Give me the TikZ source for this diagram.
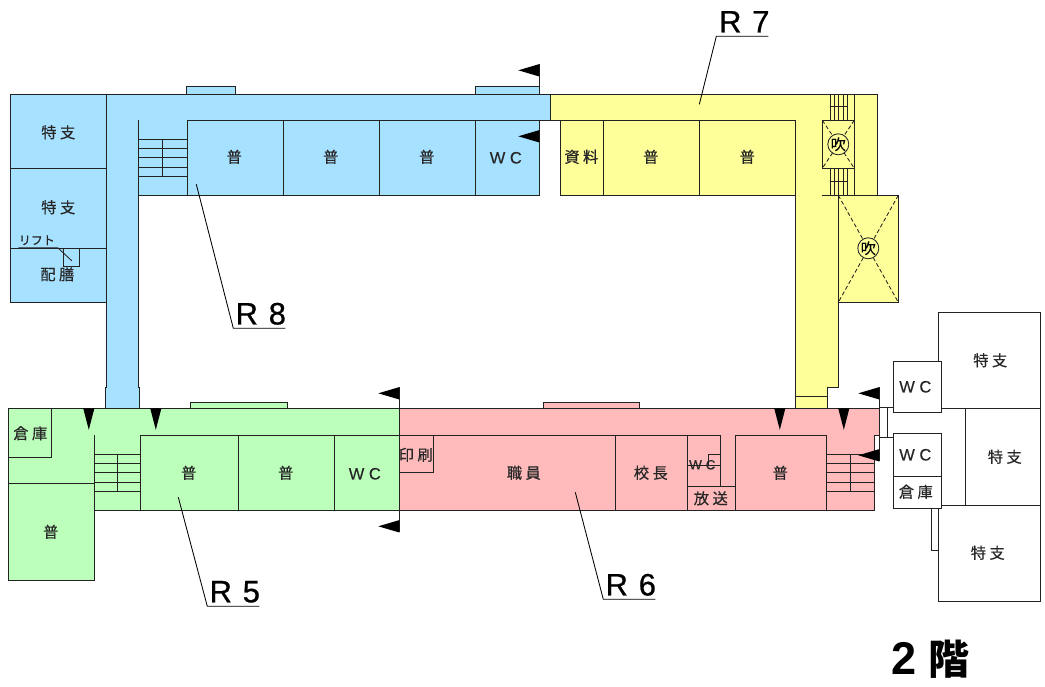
\documentclass[tikz,border=0pt]{standalone}
\usepackage{fontspec}
\usepackage{graphicx}
\setmainfont{Noto Sans CJK JP}[RawFeature={embolden=0.35}]
\newfontfamily\latinf{Liberation Sans}[RawFeature={embolden=0.25}]
\newfontfamily\latinr{Liberation Sans}[RawFeature={embolden=0.7}]
\newfontfamily\latinb{Liberation Sans}
\newfontfamily\jpbold{Noto Sans CJK JP}
\definecolor{cblue}{HTML}{A6E1FF}
\definecolor{cyellow}{HTML}{FFFF99}
\definecolor{cgreen}{HTML}{BBFFBB}
\definecolor{cpink}{HTML}{FFBBBB}
\definecolor{lin}{HTML}{222222}
\tikzset{
 wall/.style={draw=lin,line width=0.95pt,line join=miter},
 thin wall/.style={draw=lin,line width=0.85pt},
 room/.style={inner sep=0pt,font=\fontsize{15.3}{15}\selectfont,text=black!85},
 wc/.style={inner sep=0pt,font=\latinf\fontsize{16.5}{15}\selectfont,text=black!85},
 rlabel/.style={inner sep=0pt,font=\latinr\fontsize{31}{31}\selectfont,text=black},
 flagtip/.style={fill=black,draw=none},
 leader/.style={draw=black,line width=0.85pt},
}
\begin{document}
\begin{tikzpicture}[x=1pt,y=-1pt]
\useasboundingbox (-0.3,-0.3) rectangle (1044.7,686.7);
% --- R8 blue
\path[wall,fill=cblue] (186,94)--(186,86)--(235,86)--(235,94)--cycle;
\path[wall,fill=cblue] (475,94)--(475,86)--(539,86)--(539,94)--cycle;
\path[wall,fill=cblue] (10,94)--(550,94)--(550,120)--(539,120)--(539,195)--(138,195)--(138,387)--(139.5,387)--(139.5,408)--(105,408)--(105,387)--(106,387)--(106,302)--(10,302)--cycle;
\draw[wall] (106,94)--(106,302) (10,168)--(106,168) (10,248)--(106,248);
\draw[wall] (138,120)--(138,195) (187,120)--(539,120) (187,120)--(187,195) (283,120)--(283,195) (379,120)--(379,195) (475,120)--(475,195);
\foreach \yy in {139,148,157,167,176} \draw[thin wall] (138,\yy)--(187,\yy);
\draw[thin wall] (162.5,139)--(162.5,176);
\draw[thin wall] (63.5,248)--(63.5,266)--(79.5,266)--(79.5,248);
\draw[thin wall] (18,247.5)--(57.5,247.5)--(71.5,260.5);
% --- R7 yellow
\path[wall,fill=cyellow] (550,94)--(877,94)--(877,195)--(898,195)--(898,302)--(838,302)--(838,387)--(827,387)--(827,408)--(795,408)--(795,195)--(560,195)--(560,120)--(550,120)--cycle;
\draw[wall] (560,120)--(795,120)--(795,195) (603,120)--(603,195) (699,120)--(699,195) (795,396)--(827,396);
\draw[wall] (822,195)--(898,195) (838,195)--(838,302);
\draw[wall] (854,94)--(854,195);
\foreach \xx in {830,834.3,838.3,842.7,846.7} {\draw[thin wall] (\xx,94)--(\xx,120); \draw[thin wall] (\xx,168)--(\xx,195);}
\draw[thin wall] (830,106)--(846.7,106) (830,181)--(846.7,181);
\draw[wall,fill=cyellow] (822,120) rectangle (854,168);
\draw[thin wall,dash pattern=on 4pt off 2.5pt] (822,120)--(854,168) (854,120)--(822,168);
\draw[thin wall,dash pattern=on 4pt off 2.5pt] (838,195)--(898,302) (898,195)--(838,302);
\node[circle,draw=lin,line width=0.85pt,fill=cyellow,minimum size=21pt,inner sep=0pt,font=\fontsize{15}{15}\selectfont] (f1) at (838,144) {吹};
\node[circle,draw=lin,line width=0.85pt,fill=cyellow,minimum size=21pt,inner sep=0pt,font=\fontsize{15}{15}\selectfont] (f2) at (868,248) {吹};
% --- R5 green
\path[wall,fill=cgreen] (190,408)--(190,402)--(287,402)--(287,408)--cycle;
\path[wall,fill=cgreen] (8,408)--(399,408)--(399,510)--(94,510)--(94,580)--(8,580)--cycle;
\draw[wall] (8,457)--(51,457)--(51,408) (8,483)--(94,483) (94,435)--(94,510);
\draw[wall] (140,435)--(399,435) (140,435)--(140,510) (238,435)--(238,510) (334,435)--(334,510);
\foreach \yy in {454,463,472.6,482,491} \draw[thin wall] (94,\yy)--(140,\yy);
\draw[thin wall] (117,454)--(117,491);
% --- R6 pink
\path[wall,fill=cpink] (543,408)--(543,402)--(639,402)--(639,408)--cycle;
\path[wall,fill=cpink] (399,408)--(879,408)--(879,435)--(874,435)--(874,510)--(399,510)--cycle;
\draw[wall] (399,435)--(720,435)--(720,486) (399,472)--(433,472)--(433,435) (615,435)--(615,510) (687,435)--(687,510) (687,486)--(735,486);
\draw[wall] (735,510)--(735,435)--(826,435)--(826,510);
\draw[thin wall] (687,465)--(720,465) (708,465)--(708,454)--(720,454);
\foreach \yy in {454,463,472.6,482,491} \draw[thin wall] (826,\yy)--(874,\yy);
\draw[thin wall] (850,454)--(850,491);
% --- right block
\draw[wall] (938,361)--(938,312)--(1040,312)--(1040,601)--(938,601)--(938,508);
\draw[wall] (941,408)--(1040,408) (941,505)--(1040,505) (965,408)--(965,505);
\draw[wall] (931,508)--(931,550)--(938,550);
\draw[wall] (879,407)--(893,407) (879,437)--(893,437) (887,407)--(887,437);
\draw[wall] (879,435)--(879,461);
\draw[wall,fill=white] (893,361) rectangle (941,412);
\draw[wall,fill=white] (893,433) rectangle (941,508);
\draw[wall] (893,476)--(941,476);
% --- section flags
\draw[thin wall] (539,64)--(539,94) (539,120)--(539,142);
\draw[thin wall] (399,387)--(399,532);
\draw[thin wall] (879,387)--(879,408);
\foreach \xx/\yy in {539/70,539/136,399/393,399/526,879/393,879/455}
 \fill[flagtip] (\xx,\yy-6.2)--(\xx,\yy+6.2)--(\xx-21,\yy)--cycle;
\foreach \xx in {88.5,155.5,779.5,843.5}
 \fill[flagtip] (\xx-5.6,408)--(\xx+5.6,408)--(\xx,429.5)--cycle;
% --- room labels
\node[room] (a1) at (58,132) {特 支};
\node[room] (a2) at (58,207) {特 支};
\node[room,font=\fontsize{12}{12}\selectfont] (a3) at (36.5,240) {リフト};
\node[room] (a4) at (57,274) {配 膳};
\node[room] (a5) at (234,156.5) {普};
\node[room] (a6) at (330.5,156.5) {普};
\node[room] (a7) at (426.5,156.5) {普};
\node[wc] (a8) at (505.5,157.5) {W C};
\node[room] (b1) at (581,156.5) {資 料};
\node[room] (b2) at (650.5,156.5) {普};
\node[room] (b3) at (747,156.5) {普};
\node[room] (c1) at (30,433) {倉 庫};
\node[room] (c2) at (50.5,531.5) {普};
\node[room] (c3) at (188.5,472.5) {普};
\node[room] (c4) at (285.5,472.5) {普};
\node[wc] (c5) at (364.5,473.5) {W C};
\node[room] (d1) at (415.5,454.5) {印 刷};
\node[room] (d2) at (523.5,472.5) {職 員};
\node[room] (d3) at (650.5,472.5) {校 長};
\node[wc,font=\latinf\fontsize{13.5}{12}\selectfont] (d4) at (702,464.5) {W C};
\node[room] (d5) at (710.5,498) {放 送};
\node[room] (d6) at (780,472.5) {普};
\node[room] (e1) at (990,360) {特 支};
\node[wc] (e2) at (915,386.5) {W C};
\node[room] (e3) at (1004.5,456.5) {特 支};
\node[wc] (e4) at (915,454.5) {W C};
\node[room] (e5) at (915.5,491.5) {倉 庫};
\node[room] (e6) at (987.5,552.5) {特 支};
% --- block labels with leaders
\node[rlabel] (r7) at (744,21.5) {R\hspace{0.07em} 7};
\node[rlabel] (r8) at (260.5,313.5) {R\hspace{0.07em} 8};
\node[rlabel] (r5) at (234.5,591.5) {R\hspace{0.07em} 5};
\node[rlabel] (r6) at (630.5,584.5) {R\hspace{0.07em} 6};
\coordinate (p7) at (699,104); \coordinate (k7) at (716,36); \coordinate (e7) at (768,36);
\coordinate (p8) at (196,184); \coordinate (k8) at (233,328); \coordinate (e8) at (285,328);
\coordinate (p5) at (178,497); \coordinate (k5) at (207,606); \coordinate (e5x) at (259,606);
\coordinate (p6) at (575,492); \coordinate (k6) at (603,599); \coordinate (e6x) at (655,599);
\draw[leader] (p7)--(k7)--(e7);
\draw[leader] (p8)--(k8)--(e8);
\draw[leader] (p5)--(k5)--(e5x);
\draw[leader] (p6)--(k6)--(e6x);
\node[inner sep=0pt,font=\fontsize{41}{41}\selectfont] (title) at (930,659) {\scalebox{1.1}[1.12]{\latinb\bfseries 2}\hspace{0.3em}{\jpbold\bfseries 階}};
\end{tikzpicture}
\end{document}
